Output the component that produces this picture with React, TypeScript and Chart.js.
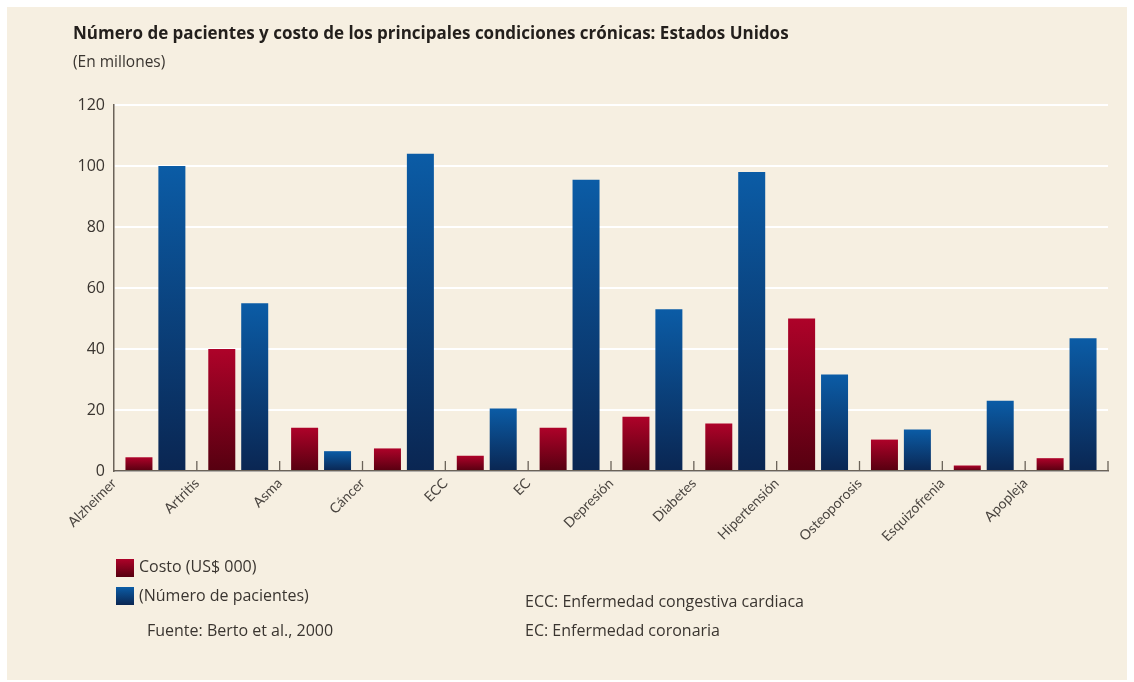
import React, { useEffect, useRef } from "react";
import { Chart, registerables } from "chart.js";

Chart.register(...registerables);

const categories = [
  "Alzheimer",
  "Artritis",
  "Asma",
  "Cáncer",
  "ECC",
  "EC",
  "Depresión",
  "Diabetes",
  "Hipertensión",
  "Osteoporosis",
  "Esquizofrenia",
  "Apopleja",
];
const costo = [4.5, 40, 14.2, 7.4, 5, 14.2, 17.8, 15.6, 50, 10.3, 1.8, 4.2];
const pacientes = [100, 55, 6.5, 104, 20.5, 95.5, 53, 98, 31.6, 13.6, 23, 43.5];
const yMin = 0;
const yMax = 120;
const yStep = 20;

const FONT = "Lato, 'Open Sans', sans-serif";
const FONT2 = "'Open Sans', Lato, sans-serif";
const BG = "#F6EFE1";

function barGradient(ctx: any, top: string, bottom: string) {
  const chart = ctx.chart;
  const ys = chart.scales && chart.scales.y;
  if (!ys || ctx.raw === undefined) return top;
  const y0 = ys.getPixelForValue(0);
  const y1 = ys.getPixelForValue(ctx.raw);
  if (!isFinite(y0) || !isFinite(y1) || y0 === y1) return top;
  const g = chart.ctx.createLinearGradient(0, y1, 0, y0);
  g.addColorStop(0, top);
  g.addColorStop(1, bottom);
  return g;
}

const upTicks = {
  id: "upTicks",
  afterDatasetsDraw(chart: any) {
    const xs = chart.scales.x;
    const { bottom, right } = chart.chartArea;
    const c = chart.ctx;
    c.save();
    c.strokeStyle = "#6b6359";
    c.lineWidth = 1.3;
    for (let i = 1; i <= categories.length; i++) {
      const px =
        i < categories.length
          ? (xs.getPixelForValue(i - 1) + xs.getPixelForValue(i)) / 2
          : right;
      c.beginPath();
      c.moveTo(px, bottom);
      c.lineTo(px, bottom - 10);
      c.stroke();
    }
    c.restore();
  },
};

export default function App() {
  const ref = useRef<HTMLCanvasElement | null>(null);

  useEffect(() => {
    if (!ref.current) return;
    const chart = new Chart(ref.current, {
      type: "bar",
      data: {
        labels: categories,
        datasets: [
          {
            label: "Costo (US$ 000)",
            data: costo,
            backgroundColor: (ctx: any) => barGradient(ctx, "#AE0229", "#560010"),
            borderWidth: 0,
            categoryPercentage: 0.795,
            barPercentage: 0.82,
          },
          {
            label: "(Número de pacientes)",
            data: pacientes,
            backgroundColor: (ctx: any) => barGradient(ctx, "#0B5CA6", "#0A2652"),
            borderWidth: 0,
            categoryPercentage: 0.795,
            barPercentage: 0.82,
          },
        ],
      },
      options: {
        responsive: false,
        animation: false,
        layout: { padding: { left: 64, right: 26, top: 105, bottom: 0 } },
        plugins: {
          legend: { display: false },
          tooltip: { enabled: false },
          title: { display: false },
        },
        scales: {
          x: {
            offset: true,
            grid: { display: false, drawTicks: false },
            border: { display: true, color: "#6b6359", width: 1.5 },
            ticks: {
              autoSkip: false,
              minRotation: 45,
              maxRotation: 45,
              labelOffset: -41.4,
              padding: 4,
              color: "#4a4540",
              font: { family: FONT, size: 14 },
            },
            afterFit: (s: any) => {
              s.height = 211;
            },
          },
          y: {
            min: yMin,
            max: yMax,
            ticks: {
              stepSize: yStep,
              padding: 9,
              color: "#3a3530",
              font: { family: FONT2, size: 16 },
            },
            grid: { color: "#FFFFFF", lineWidth: 2, drawTicks: false },
            border: { display: true, color: "#6b6359", width: 1.5 },
            afterFit: (s: any) => {
              s.width = 50;
            },
          },
        },
      },
      plugins: [upTicks],
    });
    return () => chart.destroy();
  }, []);

  const text = (top: number, left: number, content: string, size: number, weight = 400) => (
    <div
      style={{
        position: "absolute",
        top,
        left,
        fontFamily: FONT2,
        fontSize: size,
        fontWeight: weight,
        color: weight > 400 ? "#231f1c" : "#3a3530",
        whiteSpace: "nowrap",
        lineHeight: 1,
      }}
    >
      {content}
    </div>
  );

  const swatch = (top: number, a: string, b: string) => (
    <div
      style={{
        position: "absolute",
        top,
        left: 116,
        width: 18,
        height: 18,
        background: `linear-gradient(to bottom, ${a}, ${b})`,
      }}
    />
  );

  return (
    <div
      style={{
        position: "fixed",
        top: 0,
        left: 0,
        width: 1134,
        height: 682,
        background: "#FFFFFF",
        overflow: "hidden",
      }}
    >
      <div
        style={{
          position: "absolute",
          top: 7,
          left: 7,
          width: 1120,
          height: 673,
          background: BG,
        }}
      />
      <canvas
        ref={ref}
        width={1134}
        height={682}
        style={{ position: "absolute", top: 0, left: 0, width: 1134, height: 682 }}
      />
      {text(24, 73, "Número de pacientes y costo de los principales condiciones crónicas: Estados Unidos", 17, 700)}
      {text(54, 73, "(En millones)", 15.5)}
      {swatch(559, "#AE0229", "#560010")}
      {swatch(587, "#0B5CA6", "#0A2652")}
      {text(558, 139, "Costo (US$ 000)", 16)}
      {text(587, 139, "(Número de pacientes)", 16)}
      {text(622, 147, "Fuente: Berto et al., 2000", 16)}
      {text(593, 525, "ECC: Enfermedad congestiva cardiaca", 16)}
      {text(622, 525, "EC: Enfermedad coronaria", 16)}
    </div>
  );
}
